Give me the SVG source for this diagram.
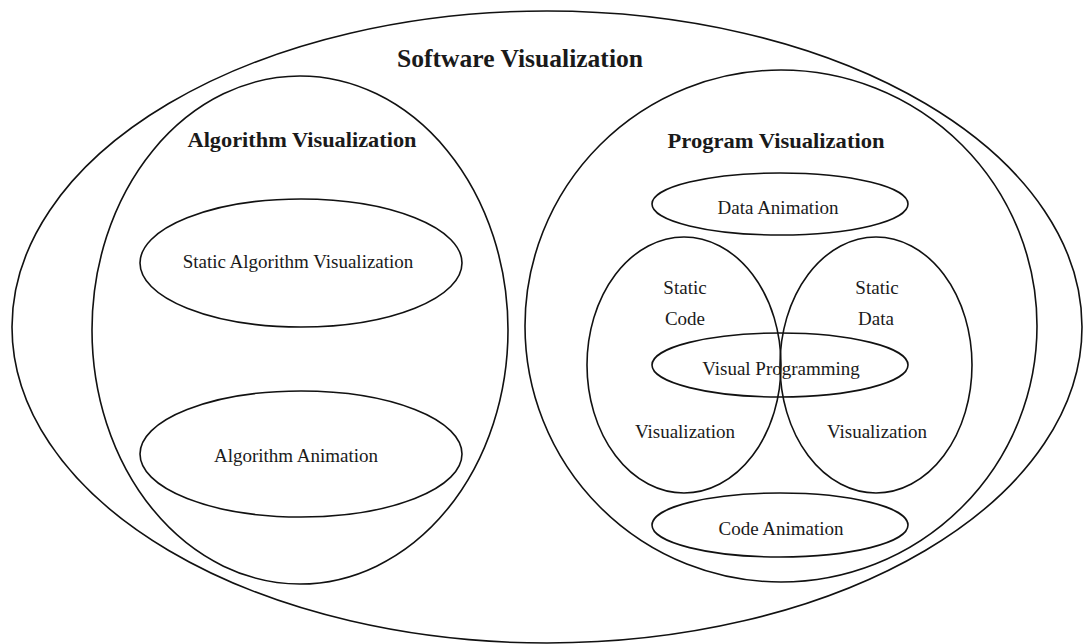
<svg xmlns="http://www.w3.org/2000/svg" width="1084" height="644" viewBox="0 0 1084 644">
  <style>
    .shape { fill: none; stroke: #111; stroke-width: 1.6; }
    .title { font-family: "Liberation Serif", "Times New Roman", serif; font-weight: bold; fill: #1a1a1a; text-anchor: middle; }
    .label { font-family: "Liberation Serif", "Times New Roman", serif; font-size: 19px; fill: #1a1a1a; text-anchor: middle; }
  </style>
  <rect width="1084" height="644" fill="#fff"/>

  <g id="software-visualization">
    <ellipse class="shape" cx="547" cy="327" rx="535" ry="316"/>
    <text class="title" x="520" y="67" font-size="26" textLength="246" lengthAdjust="spacingAndGlyphs">Software Visualization</text>
  </g>

  <g id="algorithm-visualization">
    <ellipse class="shape" cx="300" cy="330" rx="208" ry="254"/>
    <text class="title" x="302" y="147" font-size="21" textLength="229" lengthAdjust="spacingAndGlyphs">Algorithm Visualization</text>
  </g>

  <g id="static-algorithm-visualization">
    <ellipse class="shape" cx="301" cy="263" rx="161" ry="64"/>
    <text class="label" x="298" y="268">Static Algorithm Visualization</text>
  </g>

  <g id="algorithm-animation">
    <ellipse class="shape" cx="301" cy="454" rx="161" ry="63"/>
    <text class="label" x="296" y="462">Algorithm Animation</text>
  </g>

  <g id="program-visualization">
    <ellipse class="shape" cx="781" cy="326" rx="256" ry="256"/>
    <text class="title" x="776" y="148" font-size="21" textLength="217" lengthAdjust="spacingAndGlyphs">Program Visualization</text>
  </g>

  <g id="data-animation">
    <ellipse class="shape" cx="780" cy="204" rx="128" ry="31"/>
    <text class="label" x="778" y="214">Data Animation</text>
  </g>

  <g id="static-code-visualization">
    <ellipse class="shape" cx="684" cy="365" rx="97" ry="128"/>
    <text class="label" x="685" y="294">Static</text>
    <text class="label" x="685" y="325">Code</text>
    <text class="label" x="685" y="438">Visualization</text>
  </g>

  <g id="static-data-visualization">
    <ellipse class="shape" cx="876" cy="365" rx="96" ry="128"/>
    <text class="label" x="877" y="294">Static</text>
    <text class="label" x="876" y="325">Data</text>
    <text class="label" x="877" y="438">Visualization</text>
  </g>

  <g id="visual-programming">
    <ellipse class="shape" cx="780" cy="365" rx="128" ry="32"/>
    <text class="label" x="781" y="375">Visual Programming</text>
  </g>

  <g id="code-animation">
    <ellipse class="shape" cx="780" cy="525" rx="128" ry="32"/>
    <text class="label" x="781" y="535">Code Animation</text>
  </g>

  <g id="connectors"/>
</svg>
